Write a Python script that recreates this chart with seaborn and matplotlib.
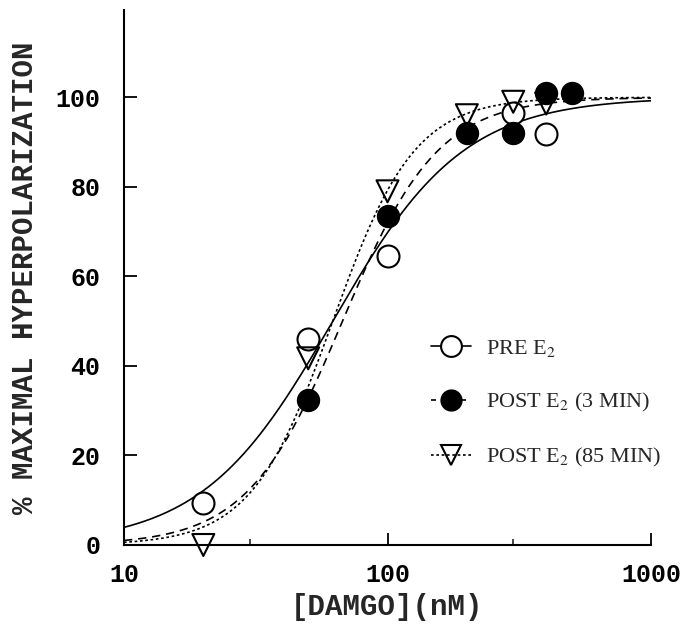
import numpy as np
import matplotlib
matplotlib.use("Agg")
import matplotlib.pyplot as plt
import seaborn as sns
from matplotlib.lines import Line2D
from matplotlib.ticker import FixedLocator, NullFormatter

# [DAMGO] (nM) vs % maximal hyperpolarization
pre_x = [20, 50, 100, 300, 400]
pre_y = [9.4, 46.0, 64.5, 96.5, 91.8]

post3_x = [50, 100, 200, 300, 400, 500]
post3_y = [32.4, 73.5, 92.0, 92.0, 101.0, 101.0]

post85_x = [20, 50, 100, 200, 300, 400]
post85_y = [0.0, 41.7, 79.0, 96.0, 99.0, 98.6]

# fitted dose-response curves: EC50 (nM), Hill slope
pre_ec50, pre_slope = 62, 1.75
post3_ec50, post3_slope = 67.5, 2.4
post85_ec50, post85_slope = 62, 2.8

labels = ["PRE E$_2$", "POST E$_2$ (3 MIN)", "POST E$_2$ (85 MIN)"]

sns.set_style("ticks")
plt.rcParams["font.family"] = ["Liberation Mono", "DejaVu Sans"]
plt.rcParams["mathtext.fontset"] = "stix"

fig = plt.figure(figsize=(6.86, 6.30), dpi=100)
ax = fig.add_axes([124 / 686, 85 / 630, 527 / 686, 535 / 630])
ax.set_xscale("log")

conc = np.logspace(1, 3, 300)
fits = [(pre_ec50, pre_slope, "-"),
        (post3_ec50, post3_slope, (0, (5, 3.5))),
        (post85_ec50, post85_slope, (0, (1.6, 1.6)))]
for ec50, slope, ls in fits:
    resp = 100 / (1 + (ec50 / conc) ** slope)
    sns.lineplot(x=conc, y=resp, ax=ax, color="black", linestyle=ls, linewidth=1.2)

sns.scatterplot(x=pre_x, y=pre_y, ax=ax, marker="o", s=250, facecolor="white",
                edgecolor="black", linewidth=1.5, zorder=3, clip_on=False)
sns.scatterplot(x=post85_x, y=post85_y, ax=ax, marker="v", s=250, facecolor="none",
                edgecolor="black", linewidth=1.5, zorder=4, clip_on=False)
sns.scatterplot(x=post3_x, y=post3_y, ax=ax, marker="o", s=250, color="black",
                edgecolor="black", linewidth=1.0, zorder=5, clip_on=False)

ax.set_xlim(10, 1000)
ax.set_ylim(0, 119.5)
sns.despine(ax=ax)
for sp in ["left", "bottom"]:
    ax.spines[sp].set_linewidth(1.5)
    ax.spines[sp].set_color("black")

ax.xaxis.set_major_locator(FixedLocator([10, 100, 1000]))
ax.xaxis.set_minor_locator(FixedLocator([30, 300]))
ax.xaxis.set_minor_formatter(NullFormatter())
ax.set_xticklabels(["10", "100", "1000"])
ax.set_yticks([0, 20, 40, 60, 80, 100])
ax.tick_params(axis="both", which="major", direction="in", length=9, width=1.3,
               color="black", labelsize=18, labelcolor="black")
ax.tick_params(axis="x", which="minor", direction="in", length=4, width=1.2)
ax.tick_params(axis="y", pad=17)
ax.tick_params(axis="x", pad=13)
for lab in ax.get_xticklabels() + ax.get_yticklabels():
    lab.set_fontweight("bold")

ax.set_xlabel("[DAMGO](nM)", fontsize=21, fontweight="bold", labelpad=4)
ax.set_ylabel("% MAXIMAL HYPERPOLARIZATION", fontsize=21, fontweight="bold",
              labelpad=12)

handles = [
    Line2D([], [], color="black", ls="-", lw=1.2, marker="o", ms=15,
           mfc="white", mec="black", mew=1.5),
    Line2D([], [], color="black", ls=(0, (3, 3)), lw=1.2, marker="o", ms=15,
           mfc="black", mec="black"),
    Line2D([], [], color="black", ls=(0, (1.6, 1.6)), lw=1.2, marker="v", ms=15,
           mfc="none", mec="black", mew=1.5),
]
ax.legend(handles, labels, loc="upper left", bbox_to_anchor=(0.545, 0.425),
          frameon=False, handlelength=1.8, handletextpad=0.65, labelspacing=1.45,
          prop={"family": "Liberation Serif", "size": 16})

fig.savefig("out.png", dpi=100)
